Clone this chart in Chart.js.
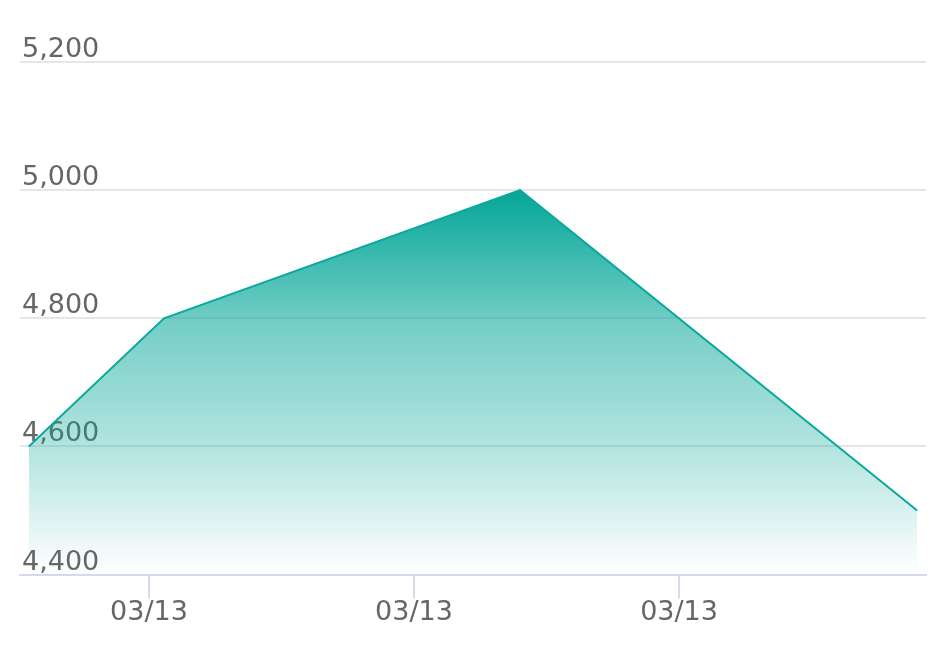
<!DOCTYPE html>
<html>
<head>
<meta charset="utf-8">
<script src="https://cdn.jsdelivr.net/npm/chart.js@4"></script>
<style>
  html, body { margin: 0; padding: 0; background: #fff; }
  #wrap { width: 950px; height: 646px; }
</style>
</head>
<body>
<div id="wrap"><canvas id="priceChart"></canvas></div>
<script>
// hours of the day on 03/13
const hours = [3.28, 6.34, 14.40, 23.39];
const values = [4600, 4800, 5000, 4500];
const tickLabel = '03/13';
const yTicks = [4400, 4600, 4800, 5000, 5200];

const points = hours.map((h, i) => ({ x: h, y: values[i] }));

// gradient runs from the highest point down to the x axis
function fillGradient(ctx) {
  const chart = ctx.chart;
  const area = chart.chartArea;
  if (!area || !chart.scales.y) return 'rgba(0,166,153,0.5)';
  const top = chart.scales.y.getPixelForValue(Math.max(...values));
  const g = chart.ctx.createLinearGradient(0, top, 0, area.bottom);
  g.addColorStop(0, 'rgba(4,166,152,1)');
  g.addColorStop(0.35, 'rgba(4,166,152,0.55)');
  g.addColorStop(0.7, 'rgba(4,166,152,0.28)');
  g.addColorStop(1, 'rgba(4,166,152,0)');
  return g;
}

new Chart(document.getElementById('priceChart'), {
  type: 'line',
  data: {
    datasets: [{
      data: points,
      borderColor: '#0aa89e',
      borderWidth: 2,
      backgroundColor: fillGradient,
      fill: 'start',
      pointRadius: 0,
      tension: 0
    }]
  },
  options: {
    responsive: true,
    maintainAspectRatio: false,
    animation: false,
    layout: { padding: { left: 16, right: 24, top: 62, bottom: 19 } },
    plugins: { legend: { display: false }, tooltip: { enabled: false } },
    scales: {
      x: {
        type: 'linear',
        min: 3.08,
        max: 23.59,
        border: { display: true, color: '#d3dbec', width: 2 },
        grid: { drawOnChartArea: false, color: '#d3dbec', lineWidth: 2, tickLength: 24 },
        ticks: {
          stepSize: 6,
          includeBounds: false,
          maxRotation: 0,
          padding: -2,
          color: '#666',
          font: { family: 'DejaVu Sans', size: 27 },
          callback: () => tickLabel
        }
      },
      y: {
        min: 4400,
        max: 5200,
        afterBuildTicks: axis => { axis.ticks = yTicks.map(v => ({ value: v })); },
        border: { display: false },
        grid: { color: '#e6e6e6', lineWidth: 2, drawTicks: false },
        ticks: {
          mirror: true,
          padding: 2,
          labelOffset: -12,
          color: '#666',
          font: { family: 'DejaVu Sans', size: 27 },
          callback: v => v.toLocaleString('en-US')
        }
      }
    }
  }
});
</script>
</body>
</html>
